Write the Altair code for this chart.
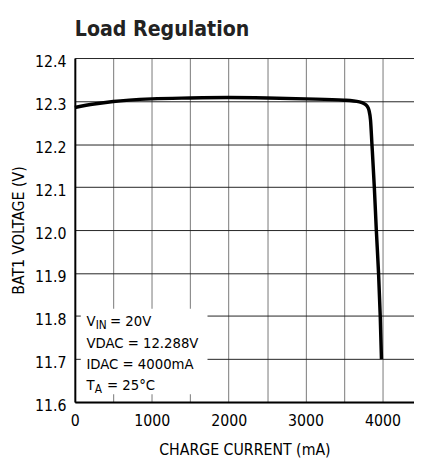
import altair as alt
import pandas as pd

# Curve data
current_ma = [0, 250, 500, 1000, 1500, 2000, 2500, 3000, 3500, 3700, 3760, 3800,
              3825, 3845, 3863, 3894, 3920, 3949, 3971, 3987]
bat_voltage = [12.285, 12.293, 12.299, 12.305, 12.307, 12.308, 12.307, 12.305, 12.302,
               12.298, 12.294, 12.288, 12.278, 12.255, 12.20, 12.10, 12.00, 11.90, 11.80, 11.70]

x_grid = [0, 500, 1000, 1500, 2000, 2500, 3000, 3500, 4000]
y_ticks = [11.6, 11.7, 11.8, 11.9, 12.0, 12.1, 12.2, 12.3, 12.4]
x_domain = [0, 4410]
y_domain = [11.6, 12.4]

# Annotation box and texts
box_x = [77]
box_x2 = [1725]
box_y = [11.618]
box_y2 = [11.817]
ann_x = 150
line_y = [11.776, 11.726, 11.678, 11.627]

FONT = "DejaVu Sans Condensed"

df = pd.DataFrame({"I": current_ma, "V": bat_voltage})

x_scale = alt.Scale(domain=x_domain, nice=False, zero=False)
y_scale = alt.Scale(domain=y_domain, nice=False, zero=False)

x_axis = alt.Axis(values=x_grid, labelExpr="datum.value % 1000 == 0 ? datum.label : ''",
                  format="d", ticks=False, grid=True, gridColor="#777", gridWidth=1,
                  domainColor="black", domainWidth=2, labelFont=FONT, labelFontSize=16,
                  labelColor="black", labelPadding=11, labelFlush=False,
                  title="CHARGE CURRENT (mA)", titleFont=FONT, titleFontSize=16,
                  titleFontWeight="normal", titleColor="black", titlePadding=13)
y_axis = alt.Axis(values=y_ticks, format=".1f", ticks=False, grid=True, gridColor="#222",
                  gridWidth=1, domainColor="black", domainWidth=2, labelFont=FONT,
                  labelFontSize=16, labelColor="black", labelPadding=9, labelOffset=4,
                  title="BAT1 VOLTAGE (V)", titleFont=FONT, titleFontSize=16,
                  titleFontWeight="normal", titleColor="black", titlePadding=8)

line = alt.Chart(df).mark_line(color="black", strokeWidth=3.5, interpolate="monotone").encode(
    x=alt.X("I:Q", scale=x_scale, axis=x_axis),
    y=alt.Y("V:Q", scale=y_scale, axis=y_axis),
)

box_df = pd.DataFrame({"x": box_x, "x2": box_x2, "y": box_y, "y2": box_y2})
box = alt.Chart(box_df).mark_rect(color="white").encode(
    x=alt.X("x:Q", scale=x_scale), x2="x2:Q",
    y=alt.Y("y:Q", scale=y_scale), y2="y2:Q",
)


def txt(text, y, size=15, dx=0, dy=0):
    d = pd.DataFrame({"x": [ann_x], "y": [y], "t": [text]})
    return alt.Chart(d).mark_text(align="left", baseline="alphabetic", font=FONT,
                                  fontSize=size, color="black", dx=dx, dy=dy).encode(
        x=alt.X("x:Q", scale=x_scale), y=alt.Y("y:Q", scale=y_scale), text="t:N")


texts = [
    txt("V", line_y[0]), txt("IN", line_y[0], size=12, dx=9.5, dy=3), txt("= 20V", line_y[0], dx=24),
    txt("VDAC = 12.288V", line_y[1]),
    txt("IDAC = 4000mA", line_y[2]),
    txt("T", line_y[3]), txt("A", line_y[3], size=12, dx=8.5, dy=3), txt("= 25°C", line_y[3], dx=21),
]

chart = alt.layer(box, line, *texts).properties(
    width=345, height=350,
    autosize=alt.AutoSizeParams(type="none"),
    padding={"left": 68, "top": 47, "right": 0, "bottom": 54},
    title=alt.TitleParams("Load Regulation", anchor="start", frame="group", font=FONT,
                          fontSize=21.5, fontWeight="bold", color="#222", offset=14),
).configure_view(stroke=None).configure_axis(gridOpacity=1)

chart.save("out.html", embed_options={"renderer": "svg", "actions": False})
